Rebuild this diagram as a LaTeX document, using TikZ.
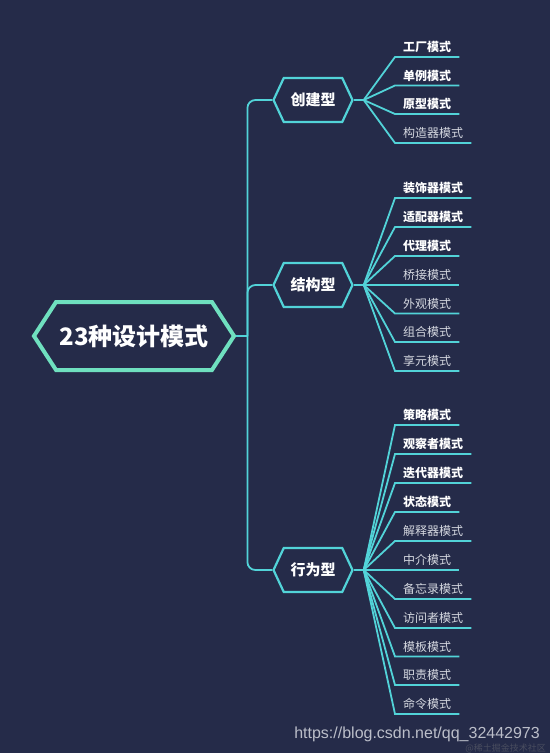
\documentclass[tikz,border=0pt]{standalone}
\usepackage{fontspec}
\newfontfamily\cjk{Noto Sans CJK SC}
\newfontfamily\urlfont{Liberation Sans}
\usetikzlibrary{shapes.symbols, positioning}
\definecolor{bgnavy}{HTML}{252B49}
\definecolor{mint}{HTML}{6FE0BF}
\definecolor{cyanline}{HTML}{52D3D8}
\definecolor{softgray}{HTML}{D5D8E0}

\begin{document}
\begin{tikzpicture}[x=1pt, y=-1pt, font=\cjk,
    rootbox/.style={signal, signal to=east and west, signal pointer angle=114, draw=mint, line width=4pt,
        minimum width=198pt, minimum height=68pt, text=white, font=\cjk\bfseries\fontsize{24}{28}\selectfont},
    catbox/.style={signal, signal to=east and west, signal pointer angle=130, draw=cyanline, line width=2.2pt,
        minimum width=79pt, minimum height=44pt, text=white, font=\cjk\bfseries\fontsize{15}{18}\selectfont},
    leaf/.style={anchor=south west, inner xsep=8pt, inner ysep=4pt, text=softgray, font=\cjk\fontsize{12}{14}\selectfont},
    boldleaf/.style={leaf, text=white, font=\cjk\bfseries\fontsize{12}{14}\selectfont},
    link/.style={draw=cyanline, line width=1.8pt}]
    \fill[bgnavy] (0,0) rectangle (550,753);

    % root and the three groups
    \node[rootbox] (root) at (134,336) {23种设计模式};
    \node[catbox] (create) at (313,100) {创建型};
    \node[catbox] (struct) at (313,285) {结构型};
    \node[catbox] (behave) at (313,570) {行为型};

    \coordinate (hub) at ([xshift=11pt]root.east);
    \draw[link] (root.east) -- (hub);
    \draw[link, rounded corners=8pt] (hub) |- (create.west);
    \draw[link, rounded corners=8pt] (hub) |- (struct.west);
    \draw[link, rounded corners=8pt] (hub) |- (behave.west);

    \coordinate (fc) at ([xshift=10pt]create.east);
    \coordinate (fs) at ([xshift=10pt]struct.east);
    \coordinate (fb) at ([xshift=10pt]behave.east);
    \draw[link] (create.east) -- (fc);
    \draw[link] (struct.east) -- (fs);
    \draw[link] (behave.east) -- (fb);

    % 创建型
    \node[boldleaf] (factory) at (395,57) {工厂模式};
    \node[boldleaf] (single) at (395,85.5) {单例模式};
    \node[boldleaf] (proto) at (395,114) {原型模式};
    \node[leaf] (builder) at (395,143) {构造器模式};
    \draw[link] (fc) -- (factory.south west) -- (factory.south east);
    \draw[link] (fc) -- (single.south west) -- (single.south east);
    \draw[link] (fc) -- (proto.south west) -- (proto.south east);
    \draw[link] (fc) -- (builder.south west) -- (builder.south east);

    % 结构型
    \node[boldleaf] (deco) at (395,198) {装饰器模式};
    \node[boldleaf] (adapt) at (395,227) {适配器模式};
    \node[boldleaf] (proxy) at (395,256) {代理模式};
    \node[leaf] (bridge) at (395,285) {桥接模式};
    \node[leaf] (facade) at (395,313.5) {外观模式};
    \node[leaf] (compo) at (395,342) {组合模式};
    \node[leaf] (flywt) at (395,371) {享元模式};
    \draw[link] (fs) -- (deco.south west) -- (deco.south east);
    \draw[link] (fs) -- (adapt.south west) -- (adapt.south east);
    \draw[link] (fs) -- (proxy.south west) -- (proxy.south east);
    \draw[link] (fs) -- (bridge.south west) -- (bridge.south east);
    \draw[link] (fs) -- (facade.south west) -- (facade.south east);
    \draw[link] (fs) -- (compo.south west) -- (compo.south east);
    \draw[link] (fs) -- (flywt.south west) -- (flywt.south east);

    % 行为型
    \node[boldleaf] (strat) at (395,425) {策略模式};
    \node[boldleaf] (observ) at (395,454) {观察者模式};
    \node[boldleaf] (iter) at (395,483) {迭代器模式};
    \node[boldleaf] (state) at (395,512) {状态模式};
    \node[leaf] (interp) at (395,541) {解释器模式};
    \node[leaf] (media) at (395,570) {中介模式};
    \node[leaf] (memento) at (395,599) {备忘录模式};
    \node[leaf] (visit) at (395,628) {访问者模式};
    \node[leaf] (templ) at (395,656.5) {模板模式};
    \node[leaf] (chain) at (395,685) {职责模式};
    \node[leaf] (cmd) at (395,714) {命令模式};
    \draw[link] (fb) -- (strat.south west) -- (strat.south east);
    \draw[link] (fb) -- (observ.south west) -- (observ.south east);
    \draw[link] (fb) -- (iter.south west) -- (iter.south east);
    \draw[link] (fb) -- (state.south west) -- (state.south east);
    \draw[link] (fb) -- (interp.south west) -- (interp.south east);
    \draw[link] (fb) -- (media.south west) -- (media.south east);
    \draw[link] (fb) -- (memento.south west) -- (memento.south east);
    \draw[link] (fb) -- (visit.south west) -- (visit.south east);
    \draw[link] (fb) -- (templ.south west) -- (templ.south east);
    \draw[link] (fb) -- (chain.south west) -- (chain.south east);
    \draw[link] (fb) -- (cmd.south west) -- (cmd.south east);

    % watermark
    \node[anchor=east, text=softgray!85!bgnavy, font=\urlfont\fontsize{16}{18}\selectfont, inner sep=0] (mark) at (540,734) {https://blog.csdn.net/qq\_32442973};
    \node[anchor=south east, text=gray!40!bgnavy, font=\cjk\fontsize{9}{10}\selectfont, inner sep=0] (mark2) at (546,753) {@稀土掘金技术社区};
\end{tikzpicture}
\end{document}
